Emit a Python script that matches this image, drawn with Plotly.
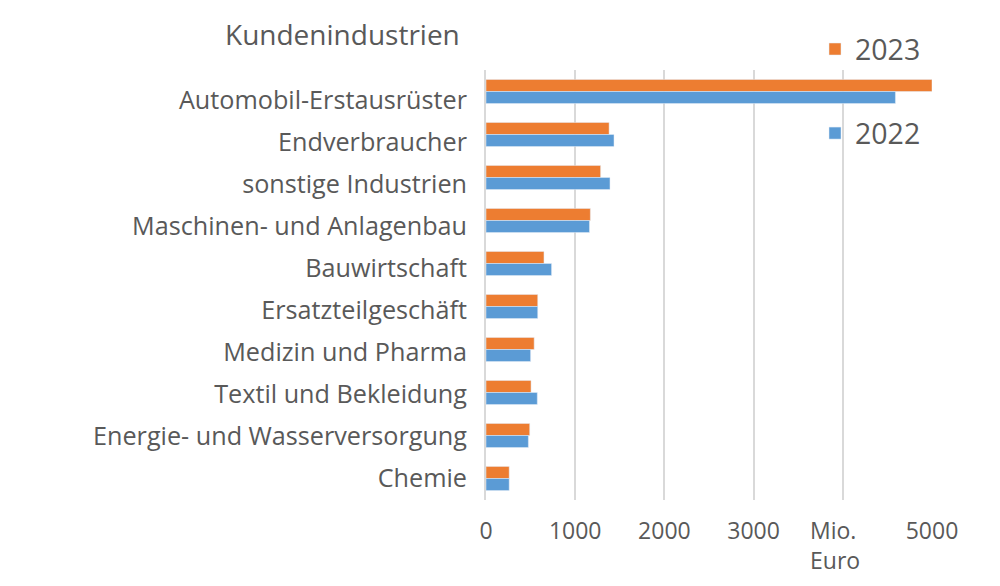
import plotly.graph_objects as go

categories = [
    "Automobil-Erstausrüster",
    "Endverbraucher",
    "sonstige Industrien",
    "Maschinen- und Anlagenbau",
    "Bauwirtschaft",
    "Ersatzteilgeschäft",
    "Medizin und Pharma",
    "Textil und Bekleidung",
    "Energie- und Wasserversorgung",
    "Chemie",
]
values_2023 = [5000, 1380, 1285, 1170, 650, 580, 540, 505, 490, 260]
values_2022 = [4590, 1435, 1390, 1160, 735, 580, 500, 575, 475, 260]
tick_vals = [0, 1000, 2000, 3000, 4000, 5000]
tick_text = ["0", "1000", "2000", "3000", "", "5000"]

GRAY = "#595959"
FONT = "Open Sans"

fig = go.Figure()
fig.add_trace(go.Bar(y=categories, x=values_2023, name="2023", orientation="h",
                     marker=dict(color="#ED7D31"), legendgroup="a"))
fig.add_trace(go.Bar(y=categories, x=values_2022, name="2022", orientation="h",
                     marker=dict(color="#5B9BD5"), legendgroup="b"))
# invisible helper trace so the label axis (Excel-like label spacing) is drawn
fig.add_trace(go.Scatter(x=[None], y=[None], yaxis="y2", showlegend=False, hoverinfo="skip"))

# label axis: Excel spaces category labels slightly tighter than the bars
n = len(categories)
top_px, bot_px, plot_top, plot_bot = 100.5, 478.0, 70.0, 500.0
step = (bot_px - top_px) / (n - 1)
r_top = -(top_px - plot_top) / step
r_bot = (n - 1) + (plot_bot - bot_px) / step

fig.update_layout(
    width=1000, height=586,
    paper_bgcolor="white", plot_bgcolor="white",
    margin=dict(l=486, r=68, t=70, b=86),
    barmode="group", bargap=0.44, bargroupgap=0,
    font=dict(family=FONT, color=GRAY, size=25),
    title=dict(text="Kundenindustrien", x=225/1000, xanchor="left", y=1-35/586, yanchor="middle",
               font=dict(size=28, color=GRAY, family=FONT)),
    legend=dict(x=(815-486)/446, y=1+(70-24)/430,
                xanchor="left", yanchor="top", font=dict(size=28.5, color=GRAY),
                tracegroupgap=44, bgcolor="rgba(0,0,0,0)"),
    xaxis=dict(range=[0, 5000], tickvals=tick_vals, ticktext=tick_text,
               showgrid=True, gridcolor="#D9D9D9", gridwidth=1.5, zeroline=False,
               tickfont=dict(size=23, color=GRAY), ticklabelstandoff=15, fixedrange=True),
    yaxis=dict(autorange="reversed", showline=True, linecolor="#D9D9D9", linewidth=1.5,
               showticklabels=False, showgrid=False, fixedrange=True),
    yaxis2=dict(overlaying="y", side="left", range=[r_bot, r_top],
                tickmode="array", tickvals=list(range(n)), ticktext=categories,
                tickfont=dict(size=25.2, color=GRAY), ticklabelstandoff=18,
                showgrid=False, zeroline=False, showline=False, fixedrange=True),
    annotations=[dict(text="Mio.<br>Euro", xref="paper", yref="paper", x=(808-486)/446, y=-0.027,
                      xanchor="left", yanchor="top", showarrow=False, align="left",
                      font=dict(size=23, color=GRAY))],
)

fig.write_html("out.html", post_script="document.body.style.margin='0';",
               config={"displayModeBar": False})
